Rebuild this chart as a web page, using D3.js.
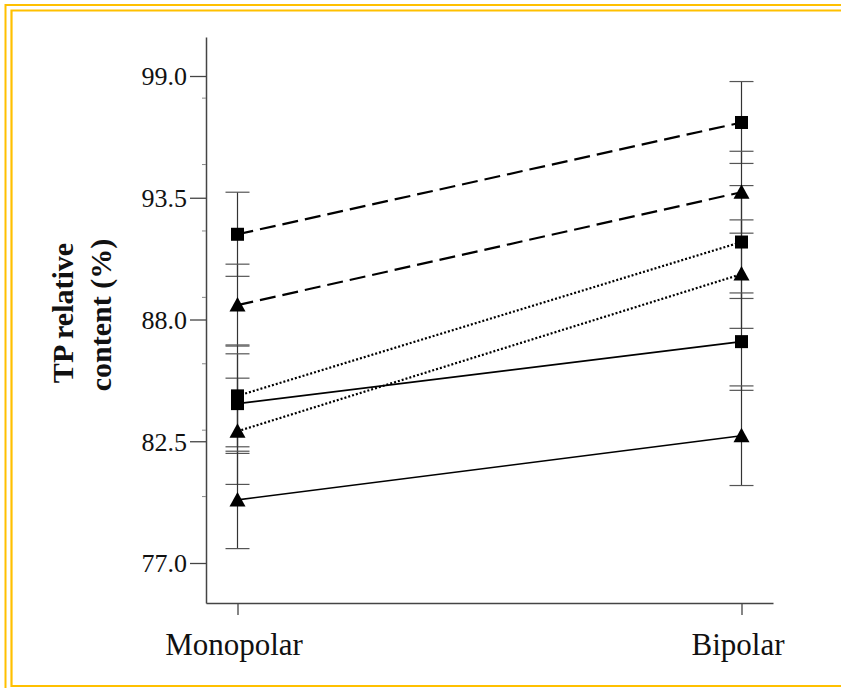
<!DOCTYPE html>
<html>
<head>
<meta charset="utf-8">
<script src="https://cdn.jsdelivr.net/npm/d3@7/dist/d3.min.js"></script>
<style>
  html, body { margin: 0; padding: 0; background: #fff; overflow: hidden; }
  svg { display: block; }
</style>
</head>
<body>
<svg id="chart" width="841" height="688"></svg>
<script>
// Groups on the x axis
const categories = ["Monopolar", "Bipolar"];
// Labelled y ticks and the small unlabelled ones
const yTicks = [77.0, 82.5, 88.0, 93.5, 99.0];
const yMinorTicks = [80, 83, 86, 89, 92, 95, 98];
// One entry per series: marker shape and line style
const seriesMarker = ["square", "triangle", "square", "triangle", "square", "triangle"];
const seriesLine = ["dashed", "dashed", "dotted", "dotted", "solid", "solid"];
// Mean TP relative content (%) for Monopolar, Bipolar
const seriesMeans = [
  [91.85, 96.9],
  [88.65, 93.75],
  [84.55, 91.5],
  [82.95, 90.05],
  [84.2, 87.0],
  [79.85, 82.75]
];
// Error bar half-lengths (%)
const seriesErrors = [
  [1.9, 1.85],
  [1.85, 1.85],
  [2.3, 2.55],
  [2.4, 2.45],
  [2.25, 2.2],
  [2.2, 2.25]
];

const svg = d3.select("#chart");
const frameColor = "#FFC000";

// Double frame (top and left edges, inner bottom edge)
const frame = svg.append("g").attr("stroke", frameColor).attr("fill", "none");
frame.append("path").attr("d", "M5.5,688 V5 H841").attr("stroke-width", 2);
frame.append("path").attr("d", "M841,10.5 H11.5 V686 H841").attr("stroke-width", 2.2);

const plotLeft = 206, plotRight = 773, plotTop = 37, plotBottom = 603;

const x = d3.scalePoint().domain(categories).range([plotLeft, plotRight]).padding(0.0625);
const y = d3.scaleLinear().domain([75.193, 100.762]).range([plotBottom, plotTop]);

const axisColor = "#444";
const serif = "'Liberation Serif', 'Times New Roman', serif";

// Y axis
const yAxis = svg.append("g").attr("transform", `translate(${plotLeft},0)`)
  .call(d3.axisLeft(y).tickValues(yTicks).tickFormat(d3.format(".1f"))
    .tickSize(16).tickSizeOuter(0).tickPadding(3));
yAxis.select(".domain").attr("stroke", axisColor).attr("stroke-width", 1.5);
yAxis.selectAll(".tick line").attr("stroke", axisColor).attr("stroke-width", 1.3);
yAxis.selectAll(".tick text").attr("font-family", serif).attr("font-size", 26)
  .attr("fill", "#111").attr("dy", "0.34em");
yAxis.selectAll(".minor").data(yMinorTicks).enter().append("line")
  .attr("class", "minor")
  .attr("x1", -4).attr("x2", 0)
  .attr("y1", d => y(d)).attr("y2", d => y(d))
  .attr("stroke", "#888").attr("stroke-width", 1);

// X axis
const xAxis = svg.append("g").attr("transform", `translate(0,${plotBottom})`)
  .call(d3.axisBottom(x).tickSize(12).tickSizeOuter(0));
xAxis.select(".domain").attr("stroke", axisColor).attr("stroke-width", 1.5);
xAxis.selectAll(".tick line").attr("stroke", axisColor).attr("stroke-width", 1.3);
xAxis.selectAll(".tick text").attr("font-family", serif).attr("font-size", 31)
  .attr("fill", "#111").attr("dy", 0).attr("y", 52).attr("x", -4);

// Y axis title
const title = svg.append("g").attr("font-family", serif).attr("font-weight", "bold")
  .attr("font-size", 30).attr("fill", "#111").attr("text-anchor", "middle");
title.append("text").attr("transform", "translate(73,313) rotate(-90)").text("TP relative");
title.append("text").attr("transform", "translate(111,315) rotate(-90)").text("content (%)");

const dashes = { dashed: "16,7", dotted: "2,2", solid: null };
const widths = { dashed: 2.2, dotted: 2.2, solid: 1.6 };

// Error bars
seriesMeans.forEach((means, s) => {
  const g = svg.append("g").attr("stroke", "#333").attr("stroke-width", 1.2);
  means.forEach((m, i) => {
    const cx = x(categories[i]);
    const e = seriesErrors[s][i];
    g.append("line").attr("x1", cx).attr("x2", cx).attr("y1", y(m + e)).attr("y2", y(m - e));
    [m + e, m - e].forEach(v => {
      g.append("line").attr("x1", cx - 12).attr("x2", cx + 12)
        .attr("y1", y(v)).attr("y2", y(v)).attr("stroke", "#555");
    });
  });
});

// Connecting lines
const line = d3.line().x((d, i) => x(categories[i])).y(d => y(d));
seriesMeans.forEach((means, s) => {
  svg.append("path").datum(means).attr("d", line)
    .attr("fill", "none").attr("stroke", "#000")
    .attr("stroke-width", widths[seriesLine[s]])
    .attr("stroke-dasharray", dashes[seriesLine[s]]);
});

// Markers
const tri = d3.path();
tri.moveTo(0, -8); tri.lineTo(8, 6.5); tri.lineTo(-8, 6.5); tri.closePath();
seriesMeans.forEach((means, s) => {
  means.forEach((m, i) => {
    const cx = x(categories[i]), cy = y(m);
    if (seriesMarker[s] === "square") {
      svg.append("rect").attr("x", cx - 6.5).attr("y", cy - 6.5)
        .attr("width", 13).attr("height", 13).attr("fill", "#000");
    } else {
      svg.append("path").attr("d", tri.toString())
        .attr("transform", `translate(${cx},${cy})`).attr("fill", "#000");
    }
  });
});
</script>
</body>
</html>
